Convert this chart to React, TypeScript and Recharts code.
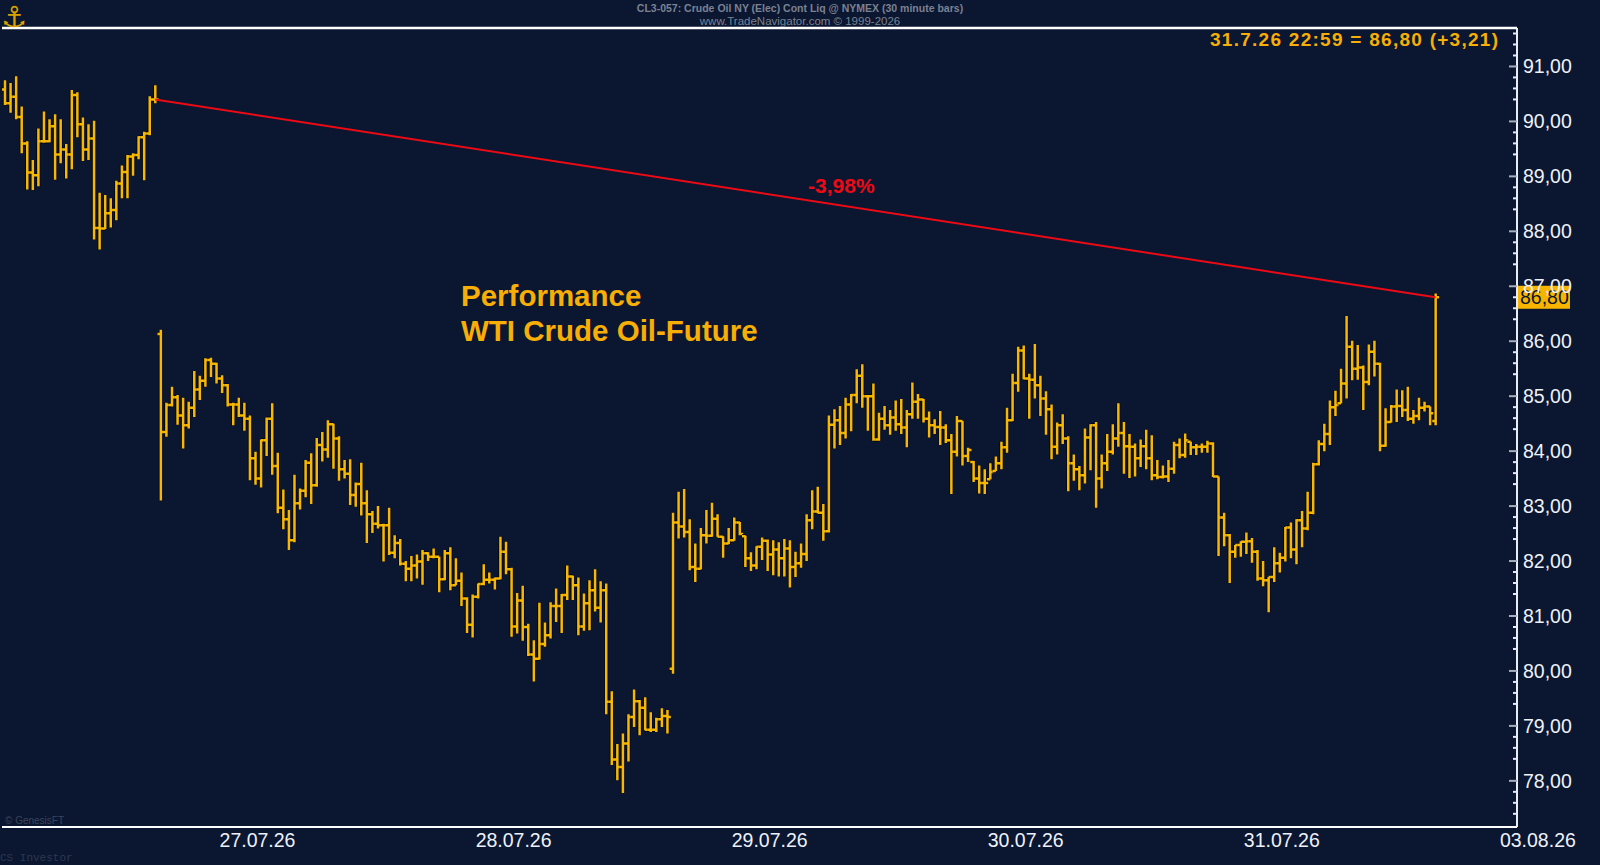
import React from 'react';
import { ComposedChart, Bar, XAxis, YAxis, ReferenceLine } from 'recharts';

// 30 minute bars, CL3-057 Crude Oil NY, bar index 0..257
const opens = [
  90.58, 90.33, 90.45, 90.08, 89.60, 89.07, 89.02, 89.64, 89.64, 89.91, 89.40, 89.49, 89.40, 90.48, 89.95, 89.49, 89.69, 88.06, 88.05, 88.33, 88.39, 88.87, 89.08, 89.36, 89.39, 89.71, 89.78, 90.40,
  86.13, 84.35, 84.84, 84.98, 84.65, 84.47, 84.79, 85.12, 85.28, 85.66, 85.59, 85.32, 85.20, 84.85, 84.85, 84.65, 84.59, 83.87, 83.50, 84.20, 84.59, 83.73, 82.97, 82.76, 82.38, 83.05, 83.28, 83.79, 83.38, 84.11, 84.03, 84.49, 84.23, 83.67, 83.59, 83.20, 83.40, 83.05, 82.85, 82.68,
  82.65, 82.65, 82.15, 82.33, 81.95, 81.86, 81.92, 81.99, 82.14, 82.08, 82.08, 81.67, 82.14, 81.56, 81.64, 81.32, 80.84, 81.35, 81.58, 81.66, 81.66, 81.68, 82.17, 81.85, 80.81, 81.28, 80.80, 80.30, 80.22, 80.49, 80.65, 81.18, 81.18, 81.38, 81.72, 81.56, 80.81, 81.23, 81.47, 81.15, 81.47, 79.44, 78.39, 78.25, 78.68, 79.16, 79.45, 79.33, 78.93, 78.93, 79.12, 79.18,
  80.04, 82.70, 82.63, 82.53, 81.89, 81.86, 82.47, 82.46, 82.77, 82.44, 82.32, 82.38, 82.70, 82.45, 82.05, 81.92, 82.26, 82.37, 82.12, 82.21, 82.05, 82.23, 81.89, 81.96, 82.13, 82.74, 82.90, 82.88, 82.54, 84.48, 84.56, 84.33, 84.85, 85.02, 85.37, 85.00, 85.00, 84.21, 84.59, 84.47, 84.61, 84.49, 84.43, 84.67, 84.90,
  84.94, 84.59, 84.47, 84.44, 84.43, 84.20, 83.99, 84.55, 83.91, 83.80, 83.50, 83.42, 83.49, 83.64, 83.78, 84.07, 84.56, 85.24, 85.83, 85.32, 85.30, 85.20, 84.96, 84.76, 84.08, 84.47, 84.23, 83.78, 83.67, 83.56, 84.25, 84.47, 83.50, 83.78, 83.99, 84.23, 84.33, 84.09, 84.08, 83.87, 84.09, 83.87, 83.56, 83.53, 83.54, 83.68, 84.11, 83.93, 84.17, 84.07, 84.08, 84.08, 84.14,
  83.54, 82.79, 82.47, 82.17, 82.29, 82.35, 82.36, 82.17, 81.68, 81.65, 81.71, 81.96, 82.06, 82.61, 82.21, 82.74, 82.59, 82.88, 83.76, 84.13, 84.31, 84.80, 84.87, 85.23, 85.90, 85.50, 85.52, 85.26, 85.81, 85.59, 84.10, 84.53, 84.81, 84.82, 84.75, 84.59, 84.64, 84.79, 84.81, 84.55,
];

const highs = [
  90.75, 90.70, 90.82, 90.27, 89.64, 89.30, 89.87, 90.18, 90.04, 90.13, 90.04, 89.59, 90.57, 90.53, 90.07, 89.95, 90.01, 88.70, 88.66, 88.60, 88.92, 89.20, 89.39, 89.42, 89.73, 89.81, 90.46, 90.66,
  86.21, 84.88, 85.17, 85.02, 84.97, 84.90, 85.46, 85.37, 85.69, 85.70, 85.61, 85.38, 85.22, 84.88, 84.97, 84.88, 84.65, 83.99, 84.21, 84.61, 84.87, 83.97, 83.30, 82.93, 83.57, 83.32, 83.84, 83.96, 84.24, 84.35, 84.56, 84.50, 84.27, 83.84, 83.85, 83.43, 83.79, 83.29, 82.91, 83.00,
  82.68, 82.97, 82.47, 82.40, 82.00, 82.09, 82.12, 82.20, 82.16, 82.23, 82.08, 82.20, 82.25, 82.05, 81.79, 81.34, 81.39, 81.59, 81.94, 81.79, 81.70, 82.44, 82.35, 81.88, 81.42, 81.55, 80.86, 80.56, 81.24, 80.88, 81.25, 81.50, 81.40, 81.92, 81.73, 81.70, 81.41, 81.65, 81.85, 81.63, 81.59, 79.63, 78.67, 78.86, 79.21, 79.66, 79.47, 79.52, 79.25, 79.15, 79.32, 79.29,
  82.88, 83.26, 83.31, 82.76, 82.32, 82.60, 82.93, 83.06, 82.85, 82.45, 82.60, 82.79, 82.71, 82.46, 82.16, 82.27, 82.43, 82.39, 82.38, 82.34, 82.40, 82.38, 82.17, 82.32, 82.85, 83.29, 83.35, 83.04, 84.65, 84.76, 84.82, 84.97, 85.04, 85.49, 85.58, 85.02, 85.23, 84.70, 84.82, 84.75, 84.92, 84.95, 84.75, 85.25, 85.04,
  84.95, 84.72, 84.58, 84.73, 84.49, 84.31, 84.64, 84.55, 84.06, 83.82, 83.74, 83.67, 83.78, 83.90, 84.17, 84.79, 85.41, 85.90, 85.92, 85.41, 85.95, 85.37, 85.09, 84.85, 84.52, 84.67, 84.27, 83.94, 83.73, 84.41, 84.49, 84.53, 83.94, 84.31, 84.49, 84.87, 84.53, 84.31, 84.14, 84.21, 84.39, 84.29, 83.84, 83.74, 83.84, 84.17, 84.23, 84.32, 84.17, 84.13, 84.14, 84.19, 84.16,
  83.54, 82.88, 82.49, 82.29, 82.36, 82.52, 82.42, 82.20, 82.00, 81.71, 82.25, 82.15, 82.62, 82.70, 82.76, 82.91, 83.26, 83.79, 84.20, 84.50, 84.92, 85.10, 85.50, 86.46, 86.01, 85.93, 85.56, 85.94, 86.01, 85.61, 84.78, 84.84, 85.12, 85.11, 85.17, 84.75, 84.97, 84.90, 84.81, 86.87,
];

const lows = [
  90.30, 90.16, 90.04, 89.42, 88.76, 88.75, 88.82, 89.61, 89.62, 88.94, 89.24, 88.96, 89.13, 89.71, 89.28, 89.30, 87.85, 87.67, 88.04, 88.07, 88.20, 88.60, 88.60, 89.01, 89.31, 88.93, 89.75, 90.33,
  83.10, 84.26, 84.81, 84.48, 84.05, 84.41, 84.62, 84.93, 85.17, 85.35, 85.23, 85.06, 84.81, 84.47, 84.62, 84.37, 83.47, 83.39, 83.34, 83.91, 83.57, 82.87, 82.58, 82.20, 82.34, 82.94, 83.16, 83.04, 83.35, 83.81, 83.88, 83.68, 83.46, 83.50, 83.02, 82.99, 82.83, 82.33, 82.51, 82.59,
  81.99, 82.11, 82.05, 81.92, 81.63, 81.63, 81.68, 81.57, 82.00, 82.05, 81.43, 81.65, 81.47, 81.56, 81.18, 80.69, 80.61, 81.32, 81.56, 81.59, 81.48, 81.67, 81.76, 80.62, 80.68, 80.55, 80.27, 79.81, 80.21, 80.44, 80.59, 80.89, 80.69, 81.29, 81.29, 80.65, 80.73, 80.74, 81.08, 80.88, 79.21, 78.29, 78.01, 77.78, 78.35, 78.98, 78.83, 78.92, 78.89, 78.89, 78.98, 78.86,
  79.95, 82.41, 82.43, 81.83, 81.62, 81.85, 82.32, 82.44, 82.44, 82.06, 82.31, 82.37, 82.47, 81.89, 81.82, 81.85, 82.02, 81.82, 81.74, 81.72, 81.72, 81.52, 81.71, 81.88, 82.00, 82.58, 82.87, 82.37, 82.52, 84.05, 84.11, 84.23, 84.36, 84.87, 84.79, 84.37, 84.19, 84.19, 84.39, 84.30, 84.37, 84.31, 84.07, 84.59, 84.59,
  84.52, 84.25, 84.31, 84.11, 84.15, 83.22, 83.90, 83.74, 83.80, 83.44, 83.23, 83.22, 83.49, 83.64, 83.67, 83.97, 84.55, 85.08, 85.31, 84.59, 84.96, 84.64, 84.30, 83.85, 83.94, 84.13, 83.27, 83.46, 83.29, 83.41, 83.65, 82.97, 83.32, 83.64, 83.94, 84.08, 83.59, 83.51, 83.54, 83.71, 83.67, 83.47, 83.49, 83.50, 83.44, 83.59, 83.87, 83.88, 83.93, 83.93, 83.97, 83.97, 83.53,
  82.09, 82.27, 81.60, 82.06, 82.08, 82.13, 81.97, 81.64, 81.54, 81.07, 81.62, 81.79, 81.99, 82.05, 81.94, 82.25, 82.56, 82.85, 83.74, 84.00, 84.11, 84.64, 84.87, 84.96, 85.29, 85.30, 84.75, 85.20, 85.36, 84.00, 84.08, 84.52, 84.53, 84.62, 84.55, 84.50, 84.56, 84.72, 84.47, 84.47,
];

const closes = [
  90.33, 90.45, 90.08, 89.60, 89.07, 89.02, 89.64, 89.64, 89.91, 89.40, 89.49, 89.40, 90.48, 89.95, 89.49, 89.69, 88.06, 88.05, 88.33, 88.39, 88.87, 89.08, 89.36, 89.39, 89.71, 89.78, 90.40, 90.40,
  84.35, 84.84, 84.98, 84.65, 84.47, 84.79, 85.12, 85.28, 85.66, 85.59, 85.32, 85.20, 84.85, 84.85, 84.65, 84.59, 83.87, 83.50, 84.20, 84.59, 83.73, 82.97, 82.76, 82.38, 83.05, 83.28, 83.79, 83.38, 84.11, 84.03, 84.49, 84.23, 83.67, 83.59, 83.20, 83.40, 83.05, 82.85, 82.68, 82.65,
  82.65, 82.15, 82.33, 81.95, 81.86, 81.92, 81.99, 82.14, 82.08, 82.08, 81.67, 82.14, 81.56, 81.64, 81.32, 80.84, 81.35, 81.58, 81.66, 81.66, 81.68, 82.17, 81.85, 80.81, 81.28, 80.80, 80.30, 80.22, 80.49, 80.65, 81.18, 81.18, 81.38, 81.72, 81.56, 80.81, 81.23, 81.47, 81.15, 81.47, 79.44, 78.39, 78.25, 78.68, 79.16, 79.45, 79.33, 78.93, 78.93, 79.12, 79.18, 79.16,
  82.70, 82.63, 82.53, 81.89, 81.86, 82.47, 82.46, 82.77, 82.44, 82.32, 82.38, 82.70, 82.49, 82.05, 81.92, 82.26, 82.37, 82.12, 82.21, 82.05, 82.23, 81.89, 81.96, 82.13, 82.74, 82.90, 82.88, 82.54, 84.48, 84.56, 84.33, 84.85, 85.02, 85.37, 85.00, 85.00, 84.21, 84.59, 84.47, 84.61, 84.49, 84.43, 84.67, 84.90, 84.94,
  84.59, 84.47, 84.44, 84.43, 84.20, 83.99, 84.55, 83.91, 84.02, 83.50, 83.42, 83.42, 83.62, 83.78, 84.07, 84.56, 85.24, 85.83, 85.32, 85.30, 85.20, 84.96, 84.76, 84.08, 84.47, 84.23, 83.78, 83.67, 83.56, 84.25, 84.47, 83.50, 83.78, 83.99, 84.23, 84.33, 84.09, 84.08, 83.87, 84.09, 83.87, 83.56, 83.53, 83.54, 83.68, 84.11, 83.93, 84.20, 84.07, 84.08, 84.08, 84.14, 83.54,
  82.79, 82.47, 82.17, 82.29, 82.35, 82.36, 82.17, 81.68, 81.65, 81.71, 81.96, 82.06, 82.61, 82.21, 82.74, 82.59, 82.88, 83.76, 84.13, 84.31, 84.80, 84.84, 85.23, 85.90, 85.50, 85.52, 85.26, 85.81, 85.59, 84.10, 84.53, 84.81, 84.82, 84.75, 84.59, 84.64, 84.79, 84.81, 84.69, 86.80,
];

// x-axis: one session = 46 half-hour bars, label sits at the session start
const dayLabels = ['27.07.26', '28.07.26', '29.07.26', '30.07.26', '31.07.26', '03.08.26'];
const firstDayBar = 45.4;
const barsPerDay = 46;
const priceLabels = [78, 79, 80, 81, 82, 83, 84, 85, 86, 87, 88, 89, 90, 91];
const priceDomain = [77.16, 91.7];
const barDomain = [-0.5, 271.65];

const perfFromBar = 27;
const prevSettle = 83.59;
const lastStamp = '31.7.26 22:59';

const BG = '#0b1631';
const BAR = '#f8b800';
const GOLD = '#f7ae05';
const RED = '#ec0a14';
const AXIS_TXT = '#eef2f8';
const FONT = '"Liberation Sans", Arial, Helvetica, sans-serif';

const bars = opens.map((o, i) => ({
  i,
  open: o,
  high: highs[i],
  low: lows[i],
  close: closes[i],
  range: [lows[i], highs[i]],
}));

const lastBar = bars.length - 1;
const lastClose = closes[lastBar];
const perfFromValue = closes[perfFromBar];
const dayTicks = dayLabels.map((_, k) => firstDayBar + k * barsPerDay);
const minorTicks: number[] = [];
priceLabels.forEach((p) => {
  minorTicks.push(p - 0.6, p - 0.4, p - 0.2, p);
});
minorTicks.push(91.2, 91.4, 91.6);

const fmt = (v: number) => v.toFixed(2).replace('.', ',');
const perfPct = ((lastClose / perfFromValue - 1) * 100).toFixed(2).replace('.', ',') + '%';
const changeTxt = (lastClose - prevSettle >= 0 ? '+' : '') + fmt(lastClose - prevSettle);

function OhlcShape(props: any) {
  const { x, y, width, height, payload } = props;
  if (!payload || height == null || isNaN(y)) return null;
  const cx = x + width / 2;
  const top = Math.min(y, y + height);
  const h = Math.abs(height);
  const span = payload.high - payload.low || 1;
  const yo = top + ((payload.high - payload.open) / span) * h;
  const yc = top + ((payload.high - payload.close) / span) * h;
  const d = `M${cx},${top}V${top + h}M${cx - 3.4},${yo}H${cx}M${cx},${yc}H${cx + 3.4}`;
  return (
    <g>
      <path d={d} stroke="#000610" strokeWidth={4.4} fill="none" strokeOpacity={0.8} />
      <path d={d} stroke={BAR} strokeWidth={2.5} fill="none" />
    </g>
  );
}

function PriceTick({ x, y, payload }: any) {
  const v = payload.value;
  const major = Math.abs(v - Math.round(v)) < 1e-6;
  return (
    <g>
      <line x1={x - (major ? 8 : 4)} x2={x} y1={y} y2={y} stroke={major ? '#a7afbd' : '#e6ebf3'} strokeWidth={2} />
      {major && (
        <text x={x + 6} y={y} dy="0.36em" fill={AXIS_TXT} fontSize={19.5} fontFamily={FONT}>
          {fmt(v)}
        </text>
      )}
    </g>
  );
}

function DayTick({ x, y, payload }: any) {
  const k = dayTicks.findIndex((t) => Math.abs(t - payload.value) < 1e-6);
  return (
    <text x={x} y={y + 13} dy="0.36em" textAnchor="middle" fill={AXIS_TXT} fontSize={19.5} fontFamily={FONT}>
      {dayLabels[k]}
    </text>
  );
}

function LastPriceLabel(props: any) {
  const vb = props.viewBox;
  if (!vb) return null;
  const bx = vb.x + vb.width + 1;
  return (
    <g>
      <rect x={bx} y={vb.y - 11.5} width={52} height={23} fill="#f8b500" />
      <text x={bx + 2} y={vb.y} dy="0.36em" fill={BG} fontSize={19.5} fontFamily={FONT}>
        {fmt(lastClose)}
      </text>
    </g>
  );
}

function PerfLabel(props: any) {
  const vb = props.viewBox;
  if (!vb) return null;
  const t = 0.536;
  return (
    <text
      x={vb.x + vb.width * t}
      y={vb.y + vb.height * t - 12}
      textAnchor="middle"
      fill={RED}
      fontSize={21}
      fontWeight={700}
      fontFamily={FONT}
    >
      {perfPct}
    </text>
  );
}

export default function App() {
  return (
    <div style={{ position: 'relative', width: 1600, height: 865, background: BG, overflow: 'hidden' }}>
      <style>{`body{margin:0;background:${BG};}`}</style>
      <ComposedChart width={1600} height={865} data={bars} margin={{ top: 28, right: 0, bottom: 0, left: 2 }}>
        <XAxis
          dataKey="i"
          type="number"
          domain={barDomain}
          allowDataOverflow
          ticks={dayTicks}
          interval={0}
          height={38}
          tickSize={0}
          tickMargin={0}
          tickLine={false}
          axisLine={{ stroke: '#ffffff', strokeWidth: 2 }}
          tick={(p: any) => <DayTick {...p} />}
        />
        <YAxis
          orientation="right"
          type="number"
          domain={priceDomain}
          allowDataOverflow
          ticks={minorTicks}
          interval={0}
          width={83}
          tickSize={0}
          tickMargin={0}
          tickLine={false}
          axisLine={{ stroke: '#e9edf4', strokeWidth: 2 }}
          tick={(p: any) => <PriceTick {...p} />}
        />
        <ReferenceLine y={priceDomain[1]} stroke="#ffffff" strokeWidth={2.5} ifOverflow="visible" />
        <Bar dataKey="range" barSize={4} shape={(p: any) => <OhlcShape {...p} />} isAnimationActive={false} />
        <ReferenceLine
          segment={[
            { x: perfFromBar, y: perfFromValue },
            { x: lastBar, y: lastClose },
          ]}
          stroke={RED}
          strokeWidth={2}
          label={(p: any) => <PerfLabel {...p} />}
        />
        <ReferenceLine
          y={lastClose}
          stroke="none"
          ifOverflow="visible"
          label={(p: any) => <LastPriceLabel {...p} />}
        />
      </ComposedChart>
      <svg
        width={1600}
        height={865}
        style={{ position: 'absolute', left: 0, top: 0, pointerEvents: 'none' }}
      >
        <text x={1} y={27} fontSize={29} fill="#d8a300" fontFamily="DejaVu Sans">⚓</text>
        <text x={800} y={12} textAnchor="middle" fontSize={10.5} fontWeight={700} fill="#7a8292" fontFamily={FONT}>
          CL3-057:  Crude Oil NY (Elec) Cont Liq @ NYMEX  (30 minute bars)
        </text>
        <text x={800} y={24.5} textAnchor="middle" fontSize={11.5} fill="#7a8292" fontFamily={FONT}>
          www.TradeNavigator.com © 1999-2026
        </text>
        <text
          x={1498}
          y={46}
          textAnchor="end"
          fontSize={19}
          fontWeight={700}
          fill={GOLD}
          fontFamily={FONT}
          textLength={288}
          lengthAdjust="spacing"
        >
          {`${lastStamp} = ${fmt(lastClose)} (${changeTxt})`}
        </text>
        <text x={461} y={306} fontSize={29.5} fontWeight={700} fill={GOLD} fontFamily={FONT}>
          Performance
        </text>
        <text x={461} y={341} fontSize={29.5} fontWeight={700} fill={GOLD} fontFamily={FONT}>
          WTI Crude Oil-Future
        </text>
        <text x={5} y={824} fontSize={10} fill="#3b4559" fontFamily={FONT}>
          © GenesisFT
        </text>
        <text x={0} y={861} fontSize={11} fill="#2e384c" fontFamily='"Liberation Mono", monospace'>
          CS Investor
        </text>
      </svg>
    </div>
  );
}
